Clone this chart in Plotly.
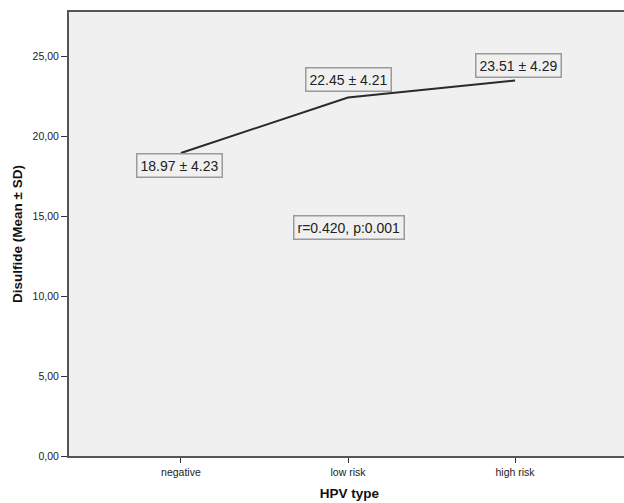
import plotly.graph_objects as go

categories = ["negative", "low risk", "high risk"]
means = [18.97, 22.45, 23.51]
sds = [4.23, 4.21, 4.29]
y_tick_vals = [0, 5, 10, 15, 20, 25]
y_tick_text = ["0,00", "5,00", "10,00", "15,00", "20,00", "25,00"]
stat_text = "r=0.420, p:0.001"

xpos = list(range(len(categories)))

fig = go.Figure()
fig.add_trace(go.Scatter(
    x=xpos, y=means, mode="lines",
    line=dict(color="#2a2a2a", width=2),
    hoverinfo="skip", showlegend=False,
))

label_shifts = [(-1, -12), (0, 18), (3, 15)]
for i, (m, s) in enumerate(zip(means, sds)):
    dx, dy = label_shifts[i]
    fig.add_annotation(
        x=xpos[i], y=m, xref="x", yref="y",
        text=f"{m:.2f} ± {s:.2f}", showarrow=False,
        xshift=dx, yshift=dy,
        font=dict(family="Liberation Sans, Arial, sans-serif", size=14, color="#222"),
        bordercolor="#9a9a9a", borderwidth=1.5, borderpad=3,
    )

fig.add_annotation(
    x=1, y=14.29, xref="x", yref="y", text=stat_text, showarrow=False,
    xshift=1,
    font=dict(family="Liberation Sans, Arial, sans-serif", size=14, color="#222"),
    bordercolor="#9a9a9a", borderwidth=1.5, borderpad=3,
)

fig.update_layout(
    width=630, height=503,
    margin=dict(l=69, r=0, t=12, b=47),
    plot_bgcolor="#f0f0f0", paper_bgcolor="white",
    font=dict(family="Liberation Sans, Arial, sans-serif", color="#222"),
)
fig.update_xaxes(
    range=[-0.67, 2.688], tickvals=xpos, ticktext=categories,
    showgrid=False, zeroline=False,
    showline=True, linecolor="#555", linewidth=2, mirror=True,
    ticks="outside", ticklen=5, tickcolor="#333", tickwidth=1,
    tickfont=dict(size=10.5, color="#222"),
    title=dict(text="<b>HPV type</b>", font=dict(size=13.5, color="#111"), standoff=12),
)
fig.update_yaxes(
    range=[0, 27.8], tickvals=y_tick_vals, ticktext=y_tick_text,
    showgrid=False, zeroline=False,
    showline=True, linecolor="#555", linewidth=2,
    ticks="outside", ticklen=6, tickcolor="#333", tickwidth=1,
    tickfont=dict(size=10.5, color="#222"),
    title=dict(text="<b>Disulfide (Mean ± SD)</b>", font=dict(size=13.5, color="#111"), standoff=7),
)

fig.write_html(
    "out.html",
    config={"displayModeBar": False},
    post_script="document.body.style.margin='0';document.body.style.overflow='hidden';",
)
